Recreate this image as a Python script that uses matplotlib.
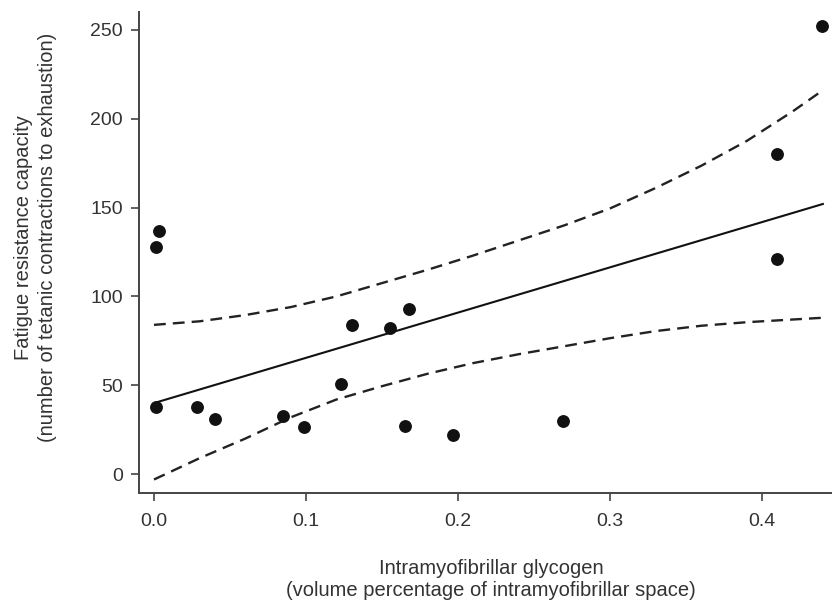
import matplotlib
matplotlib.use('Agg')
import matplotlib.pyplot as plt

plt.rcParams['font.family'] = ['Liberation Sans', 'DejaVu Sans']

# scatter points (glycogen vol %, contractions to exhaustion)
glyc = [0.001, 0.0013, 0.0033, 0.028, 0.040, 0.085, 0.099, 0.123, 0.130,
        0.155, 0.168, 0.165, 0.197, 0.269, 0.410, 0.410, 0.4395]
fatigue = [38, 128, 137, 38, 31, 33, 26.5, 51, 84,
           82, 93, 27, 22, 30, 180, 121, 252]

# regression line end points
fit_x = [0.0, 0.44]
fit_y = [40, 152]

# confidence band
band_x = [0.0, 0.03, 0.06, 0.09, 0.12, 0.15, 0.18, 0.21, 0.24, 0.27, 0.30, 0.33, 0.36, 0.39, 0.42, 0.44]
upper = [84, 86, 89.5, 94, 100, 107.5, 115, 123, 131.5, 140, 149.5, 161, 173.5, 187.5, 204, 216]
lower = [-3, 9, 20, 32, 42, 49.5, 56.5, 62.5, 67.5, 72, 76.5, 80.5, 83.5, 85.5, 87, 88]

fig = plt.figure(figsize=(8.32, 6), dpi=100)
ax = fig.add_axes([0.167, 0.178, 0.833, 0.802])

ax.plot(band_x, upper, color='#222222', lw=1.7, dashes=(5, 3))
ax.plot(band_x, lower, color='#222222', lw=1.7, dashes=(5, 3))
ax.plot(fit_x, fit_y, color='#111111', lw=1.5)
ax.scatter(glyc, fatigue, s=68, color='#111111', zorder=3, clip_on=False)

ax.set_xlim(-0.0099, 0.446)
ax.set_ylim(-10.7, 260)
ax.set_xticks([0.0, 0.1, 0.2, 0.3, 0.4])
ax.set_xticklabels(['0.0', '0.1', '0.2', '0.3', '0.4'])
ax.set_yticks([0, 50, 100, 150, 200, 250])

for s in ['top', 'right']:
    ax.spines[s].set_visible(False)
for s in ['left', 'bottom']:
    ax.spines[s].set_linewidth(1.4)
    ax.spines[s].set_color('#444444')

ax.tick_params(direction='out', length=6, width=1.2, colors='#444444',
               labelsize=14, labelcolor='#333333')
ax.tick_params(axis='x', pad=8)
ax.tick_params(axis='y', pad=5.5)

ax.set_xlabel('Intramyofibrillar glycogen\n(volume percentage of intramyofibrillar space)',
              fontsize=14.5, color='#333333', linespacing=1.25)
ax.xaxis.set_label_coords(0.508, -0.136)
ax.set_ylabel('Fatigue resistance capacity\n(number of tetanic contractions to exhaustion)',
              fontsize=14.5, color='#333333', linespacing=1.35)
ax.yaxis.set_label_coords(-0.118, 0.531)

plt.savefig('out.png', dpi=100)
